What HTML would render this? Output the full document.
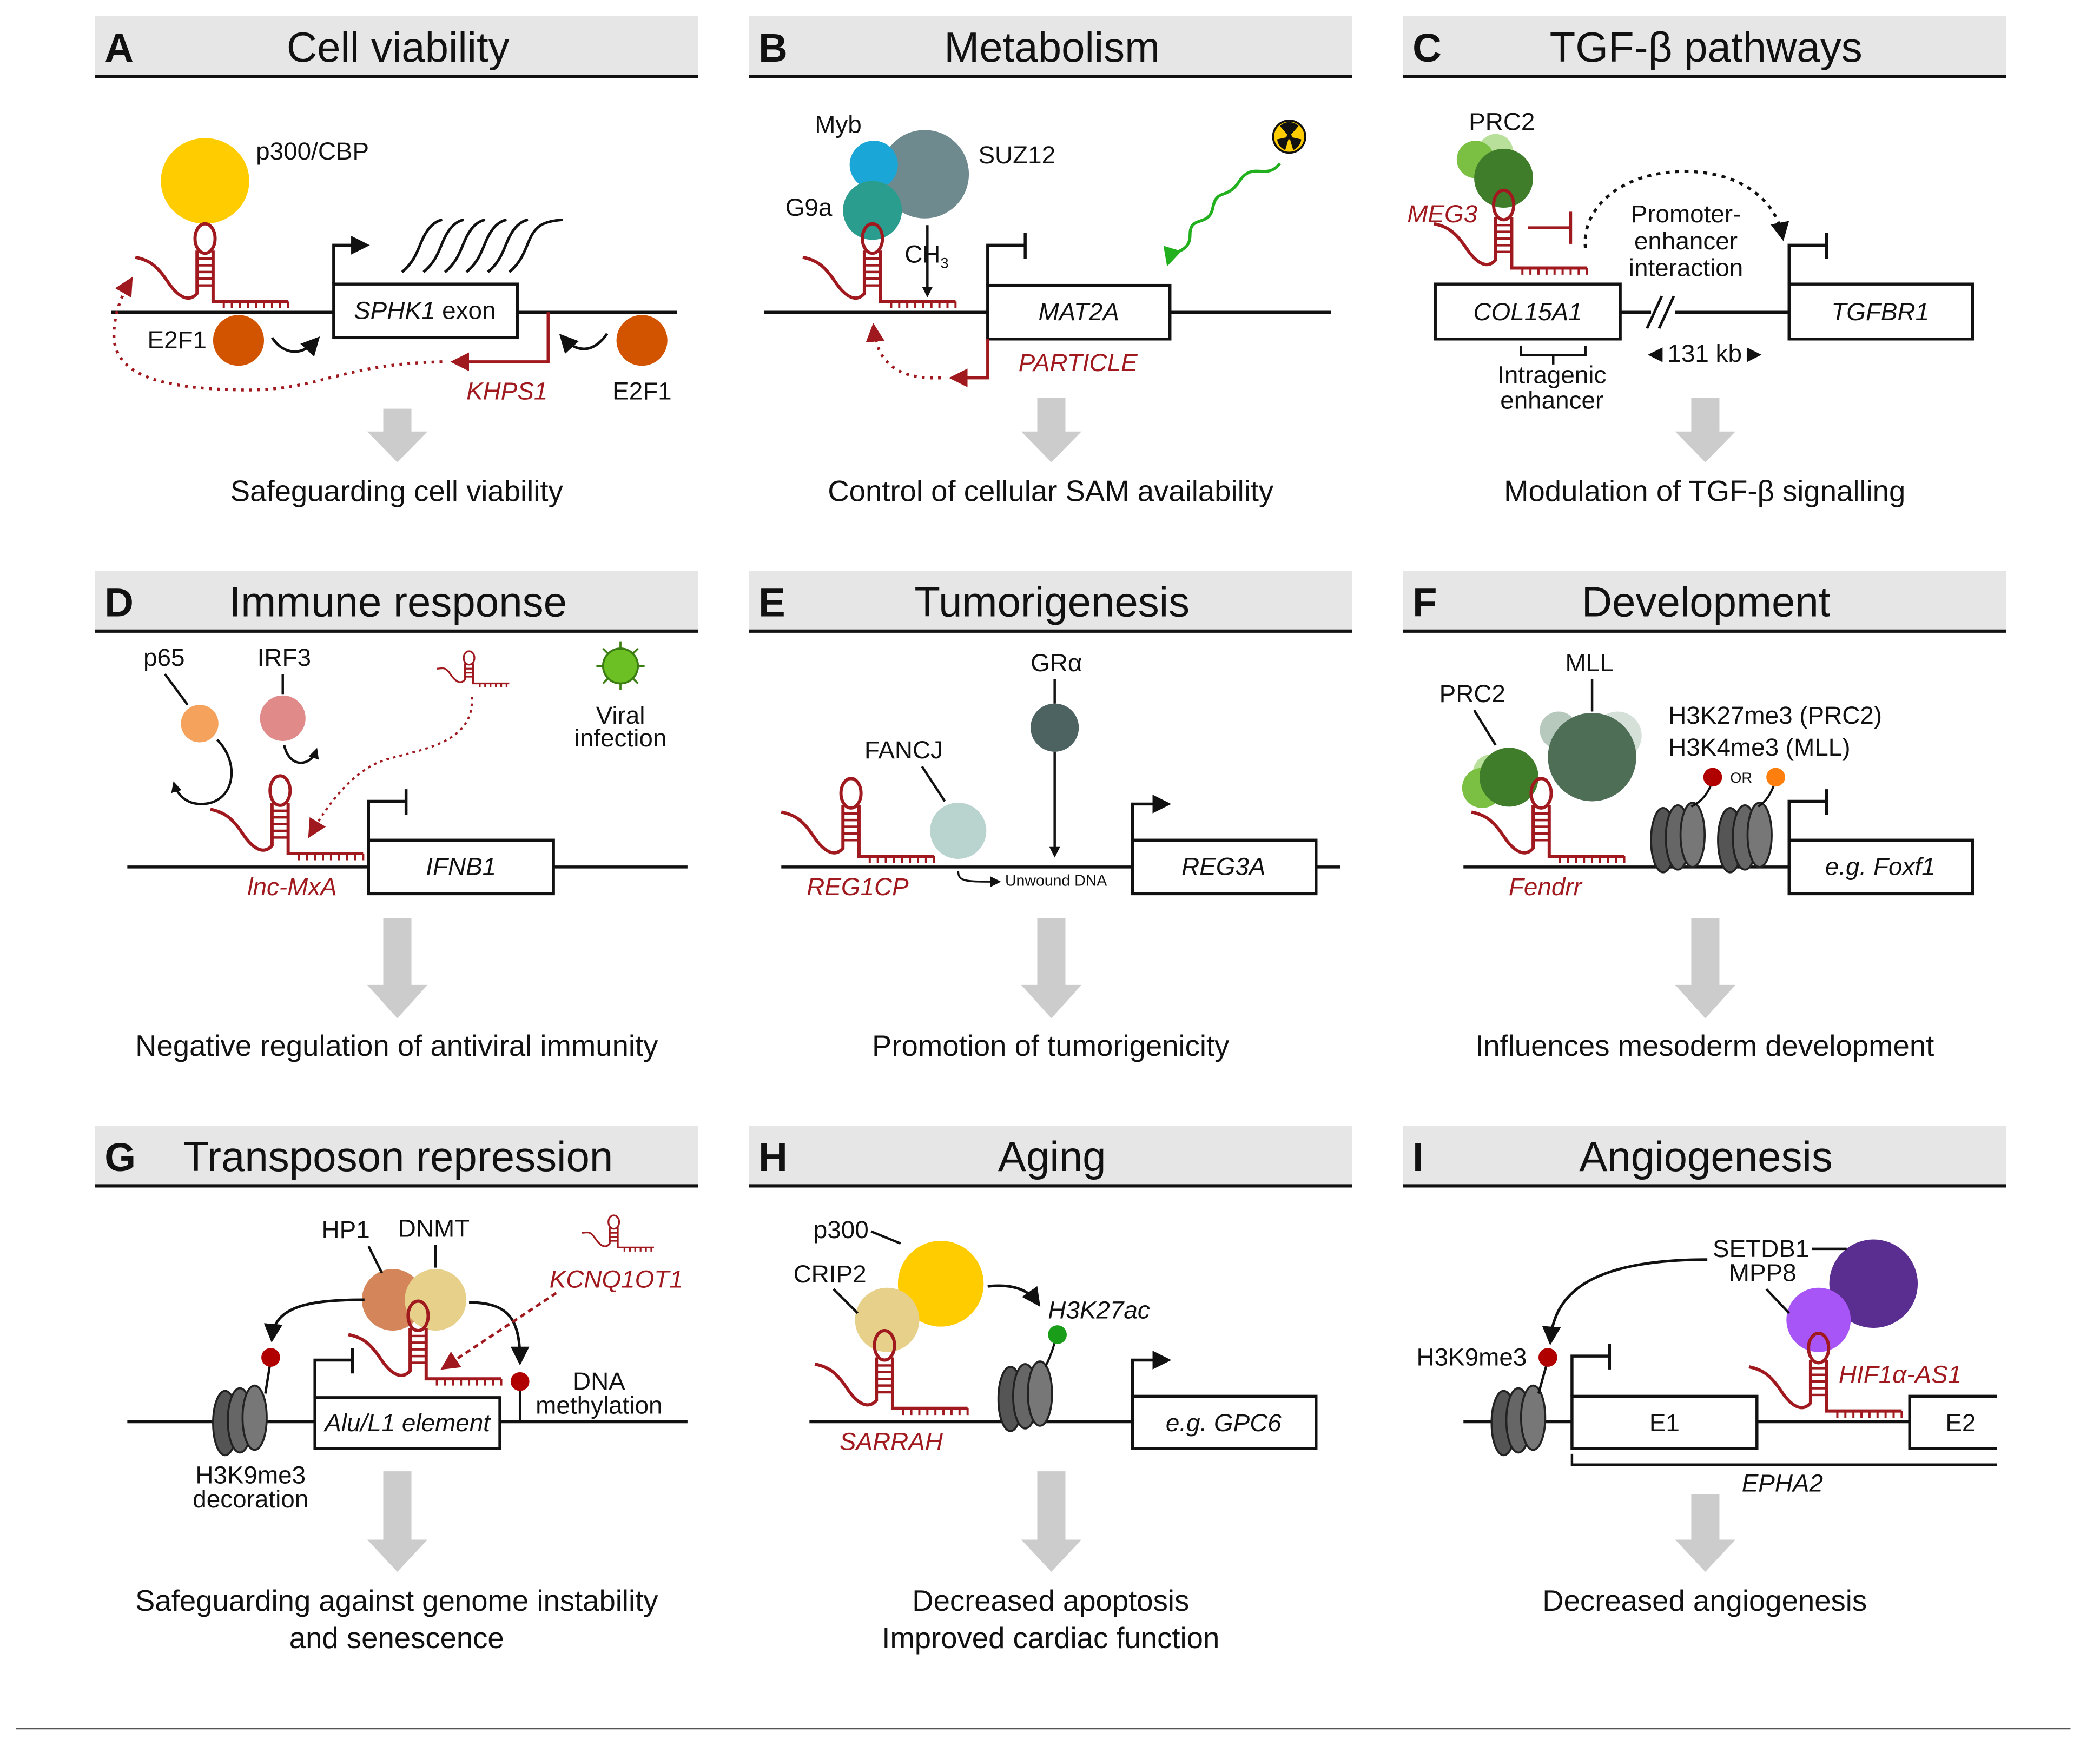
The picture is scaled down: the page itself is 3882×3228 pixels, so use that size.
<!DOCTYPE html>
<html><head><meta charset="utf-8"><style>
html,body{margin:0;padding:0;background:#fff;}
svg{display:block;}
text{font-family:"Liberation Sans",sans-serif;fill:#111;}
.h{font-size:31.5px;text-anchor:middle;}
.L{font-size:30px;font-weight:bold;}
.r{font-size:22px;text-anchor:middle;}
.s{font-size:18.5px;}
.m{text-anchor:middle;}
.i{font-style:italic;}
.red{fill:#a0191e;}
</style></head><body>
<svg width="3882" height="3228" viewBox="0 0 1567 1303" preserveAspectRatio="none" xmlns="http://www.w3.org/2000/svg">
<defs>
<marker id="ab" markerWidth="8" markerHeight="8" refX="6" refY="4" orient="auto" markerUnits="userSpaceOnUse" viewBox="0 0 8 8"><path d="M0,0 L8,4 L0,8 Z" fill="#111"/></marker>
<marker id="abig" markerWidth="14" markerHeight="14" refX="10" refY="7" orient="auto" markerUnits="userSpaceOnUse"><path d="M0,0 L14,7 L0,14 Z" fill="#111"/></marker>
<marker id="ar" markerWidth="14" markerHeight="14" refX="10" refY="7" orient="auto" markerUnits="userSpaceOnUse"><path d="M0,0 L14,7 L0,14 Z" fill="#a0191e"/></marker>
<marker id="ag" markerWidth="14" markerHeight="14" refX="10" refY="7" orient="auto" markerUnits="userSpaceOnUse"><path d="M0,0 L14,7 L0,14 Z" fill="#22b01e"/></marker>
<symbol id="hp" overflow="visible">
<g fill="none" stroke="#a0191e" stroke-width="2.4">
<ellipse cx="0" cy="0" rx="7.5" ry="11"/>
<path d="M-6,9 V41 C-12,48 -20,44 -28,32 S-42,16 -52,14"/>
<path d="M6,9 V47 H62"/>
<path d="M-6,15 H6 M-6,20 H6 M-6,25 H6 M-6,30 H6 M-6,35 H6" stroke-width="1.8"/>
<path d="M14,47 v5 M20,47 v5 M26,47 v5 M32,47 v5 M38,47 v5 M44,47 v5 M50,47 v5 M56,47 v5 M62,47 v5" stroke-width="1.6"/>
</g>
</symbol>
<symbol id="hps" overflow="visible">
<g fill="none" stroke="#a0191e" stroke-width="1.3">
<ellipse cx="0" cy="0" rx="4" ry="5"/>
<path d="M-3,4 V16 C-6,20 -10,18 -14,12 S-20,8 -24,8"/>
<path d="M3,4 V19 H30"/>
<path d="M-3,8 H3 M-3,11 H3 M-3,14 H3"/>
<path d="M8,19 v3 M12,19 v3 M16,19 v3 M20,19 v3 M24,19 v3 M28,19 v3"/>
</g>
</symbol>
<symbol id="nuc" overflow="visible">
<g stroke="#222" stroke-width="1.5">
<ellipse cx="-14" cy="2" rx="9" ry="24" fill="#555"/>
<ellipse cx="-3" cy="0" rx="9" ry="24" fill="#666"/>
<ellipse cx="8" cy="-2" rx="9" ry="24" fill="#777"/>
</g>
</symbol>
</defs>

<!-- Headers -->
<g>
<rect x="71" y="12" width="450" height="44" fill="#e6e6e6"/><rect x="559" y="12" width="450" height="44" fill="#e6e6e6"/><rect x="1047" y="12" width="450" height="44" fill="#e6e6e6"/>
<rect x="71" y="426" width="450" height="44" fill="#e6e6e6"/><rect x="559" y="426" width="450" height="44" fill="#e6e6e6"/><rect x="1047" y="426" width="450" height="44" fill="#e6e6e6"/>
<rect x="71" y="840" width="450" height="44" fill="#e6e6e6"/><rect x="559" y="840" width="450" height="44" fill="#e6e6e6"/><rect x="1047" y="840" width="450" height="44" fill="#e6e6e6"/>
<g stroke="#111" stroke-width="2.5">
<path d="M71,57 H521 M559,57 H1009 M1047,57 H1497"/>
<path d="M71,471 H521 M559,471 H1009 M1047,471 H1497"/>
<path d="M71,885 H521 M559,885 H1009 M1047,885 H1497"/>
</g>
<text class="L" x="78" y="46">A</text><text class="h" x="297" y="46">Cell viability</text>
<text class="L" x="566" y="46">B</text><text class="h" x="785" y="46">Metabolism</text>
<text class="L" x="1054" y="46">C</text><text class="h" x="1273" y="46">TGF-β pathways</text>
<text class="L" x="78" y="460">D</text><text class="h" x="297" y="460">Immune response</text>
<text class="L" x="566" y="460">E</text><text class="h" x="785" y="460">Tumorigenesis</text>
<text class="L" x="1054" y="460">F</text><text class="h" x="1273" y="460">Development</text>
<text class="L" x="78" y="874">G</text><text class="h" x="297" y="874">Transposon repression</text>
<text class="L" x="566" y="874">H</text><text class="h" x="785" y="874">Aging</text>
<text class="L" x="1054" y="874">I</text><text class="h" x="1273" y="874">Angiogenesis</text>
</g>

<!-- Gray arrows -->
<g fill="#cccccc">
<path d="M286,305 H307 V322 H319 L296.5,345 L274,322 H286 Z"/>
<path d="M774,297 H795 V322 H807 L784.5,345 L762,322 H774 Z"/>
<path d="M1262,297 H1283 V322 H1295 L1272.5,345 L1250,322 H1262 Z"/>
<path d="M286,685 H307 V735 H319 L296.5,760 L274,735 H286 Z"/>
<path d="M774,685 H795 V735 H807 L784.5,760 L762,735 H774 Z"/>
<path d="M1262,685 H1283 V735 H1295 L1272.5,760 L1250,735 H1262 Z"/>
<path d="M286,1098 H307 V1149 H319 L296.5,1173 L274,1149 H286 Z"/>
<path d="M774,1098 H795 V1149 H807 L784.5,1173 L762,1149 H774 Z"/>
<path d="M1262,1115 H1283 V1149 H1295 L1272.5,1173 L1250,1149 H1262 Z"/>
</g>
<text class="r" x="296" y="374">Safeguarding cell viability</text>
<text class="r" x="784" y="374">Control of cellular SAM availability</text>
<text class="r" x="1272" y="374">Modulation of TGF-β signalling</text>
<text class="r" x="296" y="788">Negative regulation of antiviral immunity</text>
<text class="r" x="784" y="788">Promotion of tumorigenicity</text>
<text class="r" x="1272" y="788">Influences mesoderm development</text>
<text class="r" x="296" y="1202">Safeguarding against genome instability</text>
<text class="r" x="296" y="1230">and senescence</text>
<text class="r" x="784" y="1202">Decreased apoptosis</text>
<text class="r" x="784" y="1230">Improved cardiac function</text>
<text class="r" x="1272" y="1202">Decreased angiogenesis</text>

<!-- Panel A -->
<g>
<path d="M83,233 H505" stroke="#111" stroke-width="2.2"/>
<ellipse cx="153" cy="135" rx="33" ry="32" fill="#ffcc00"/>
<text class="s" x="191" y="119">p300/CBP</text>
<use href="#hp" x="153" y="178"/>
<rect x="249" y="212" width="137" height="40" fill="#fff" stroke="#111" stroke-width="2.2"/>
<text class="s m" x="317" y="238"><tspan class="i">SPHK1</tspan> exon</text>
<path d="M249,212 V183 H272" fill="none" stroke="#111" stroke-width="2.2" marker-end="url(#abig)"/>
<g fill="none" stroke="#111" stroke-width="2">
<path d="M300,203 C310,195 312,185 316,177 S325,165 330,164"/>
<path d="M316,203 C326,195 328,185 332,177 S341,165 346,164"/>
<path d="M332,203 C342,195 344,185 348,177 S357,165 362,164"/>
<path d="M348,203 C358,195 360,185 364,177 S373,165 378,164"/>
<path d="M364,203 C374,195 376,185 380,177 S389,165 394,164"/>
<path d="M380,203 C390,195 392,185 396,177 S405,165 420,164"/>
</g>
<circle cx="178" cy="254" r="19" fill="#d35400"/>
<text class="s" x="110" y="260">E2F1</text>
<path d="M203,252 C212,265 225,266 236,254" fill="none" stroke="#111" stroke-width="2" marker-end="url(#abig)"/>
<circle cx="479" cy="254" r="19" fill="#d35400"/>
<text class="s" x="457" y="298">E2F1</text>
<path d="M453,249 C444,262 432,265 420,252" fill="none" stroke="#111" stroke-width="2" marker-end="url(#abig)"/>
<path d="M409,233 V270 H340" fill="none" stroke="#a0191e" stroke-width="2.2" marker-end="url(#ar)"/>
<path d="M330,270 C250,272 240,292 180,291 C120,290 85,280 85,250 C85,235 90,222 97,210" fill="none" stroke="#a0191e" stroke-width="2.2" stroke-dasharray="2,4" marker-end="url(#ar)"/>
<text class="s i red" x="348" y="298">KHPS1</text>
</g>

<!-- Panel B -->
<g>
<path d="M570,233 H993" stroke="#111" stroke-width="2.2"/>
<circle cx="690" cy="130" r="33" fill="#6e8a8f"/>
<circle cx="652" cy="123" r="18" fill="#1aa7d8"/>
<circle cx="651" cy="157" r="22" fill="#2a9d8f"/>
<text class="s" x="608" y="99">Myb</text>
<text class="s" x="730" y="122">SUZ12</text>
<text class="s" x="586" y="161">G9a</text>
<use href="#hp" x="651" y="178"/>
<path d="M692,168 V220" stroke="#111" stroke-width="1.8" marker-end="url(#ab)"/>
<text class="s" x="675" y="196">CH<tspan font-size="11" dy="4">3</tspan></text>
<rect x="737" y="213" width="136" height="40" fill="#fff" stroke="#111" stroke-width="2.2"/>
<text class="s m i" x="805" y="239">MAT2A</text>
<path d="M737,213 V183 H765 M765,174 V193" fill="none" stroke="#111" stroke-width="2.2"/>
<path d="M737,253 V282 H712" fill="none" stroke="#a0191e" stroke-width="2.2" marker-end="url(#ar)"/>
<path d="M702,282 C675,283 655,275 652,245" fill="none" stroke="#a0191e" stroke-width="2.2" stroke-dasharray="2,4" marker-end="url(#ar)"/>
<text class="s i red" x="760" y="277">PARTICLE</text>
<circle cx="962" cy="102" r="12" fill="#ffcc00" stroke="#111" stroke-width="1.5"/>
<g fill="#111"><circle cx="962" cy="102" r="2"/><path d="M962,102 L955,94 A10,10 0 0 1 969,94 Z"/><path d="M962,102 L971,104 A10,10 0 0 1 965,112 Z"/><path d="M962,102 L959,112 A10,10 0 0 1 953,104 Z"/></g>
<path d="M955,122 C945,135 935,120 925,135 S908,140 905,155 S888,160 888,175 S875,185 872,195" fill="none" stroke="#22b01e" stroke-width="2.2" marker-end="url(#ag)"/>
</g>

<!-- Panel C -->
<g>
<path d="M1209,233 H1335" stroke="#111" stroke-width="2.2"/>
<circle cx="1116" cy="113" r="13" fill="#b8e09a"/>
<circle cx="1101" cy="119" r="14" fill="#7bc043"/>
<circle cx="1122" cy="133" r="22" fill="#3f7d2a"/>
<text class="s" x="1096" y="97">PRC2</text>
<text class="s i red" x="1050" y="166">MEG3</text>
<use href="#hp" x="1122" y="153"/>
<path d="M1140,170 H1172 M1172,158 V182" fill="none" stroke="#a0191e" stroke-width="2.2"/>
<path d="M1183,185 C1180,155 1210,128 1257,128 C1300,128 1325,150 1330,176" fill="none" stroke="#111" stroke-width="2.2" stroke-dasharray="3,4" marker-end="url(#abig)"/>
<text class="s m" x="1258" y="166">Promoter-</text>
<text class="s m" x="1258" y="186">enhancer</text>
<text class="s m" x="1258" y="206">interaction</text>
<rect x="1071" y="212" width="138" height="41" fill="#fff" stroke="#111" stroke-width="2.2"/>
<text class="s m i" x="1140" y="239">COL15A1</text>
<rect x="1232" y="220" width="18" height="26" fill="#fff"/>
<path d="M1229,245 L1240,221 M1238,245 L1249,221" stroke="#111" stroke-width="2"/>
<rect x="1335" y="212" width="137" height="41" fill="#fff" stroke="#111" stroke-width="2.2"/>
<text class="s m i" x="1403" y="239">TGFBR1</text>
<path d="M1335,212 V183 H1363 M1363,174 V193" fill="none" stroke="#111" stroke-width="2.2"/>
<path d="M1135,258 V265 H1183 V258 M1159,265 V272" fill="none" stroke="#111" stroke-width="1.8"/>
<text class="s m" x="1158" y="286">Intragenic</text>
<text class="s m" x="1158" y="305">enhancer</text>
<text class="s m" x="1272" y="270">◄131 kb►</text>
</g>

<!-- Panel D -->
<g>
<path d="M95,647 H513" stroke="#111" stroke-width="2.2"/>
<circle cx="149" cy="540" r="14" fill="#f5a25d"/>
<circle cx="211" cy="536" r="17" fill="#e08a8a"/>
<text class="s" x="107" y="497">p65</text>
<text class="s" x="192" y="497">IRF3</text>
<path d="M123,503 L140,526 M211,503 V518" stroke="#111" stroke-width="1.8"/>
<path d="M162,552 C180,570 175,600 150,600 C138,600 132,592 130,585" fill="none" stroke="#111" stroke-width="1.8" marker-end="url(#ab)"/>
<path d="M212,556 C216,574 232,572 236,560" fill="none" stroke="#111" stroke-width="1.8" marker-end="url(#ab)"/>
<use href="#hp" x="209" y="590"/>
<rect x="275" y="627" width="138" height="40" fill="#fff" stroke="#111" stroke-width="2.2"/>
<text class="s m i" x="344" y="653">IFNB1</text>
<path d="M275,627 V598 H303 M303,589 V608" fill="none" stroke="#111" stroke-width="2.2"/>
<use href="#hps" x="350" y="491"/>
<path d="M352,520 C355,560 300,560 280,570 C260,580 245,600 232,622" fill="none" stroke="#a0191e" stroke-width="1.6" stroke-dasharray="2,3" marker-end="url(#ar)"/>
<g stroke="#3a7d10" stroke-width="1.5"><path d="M463,479 V515 M445,497 H481 M450,484 L476,510 M476,484 L450,510"/></g>
<circle cx="463" cy="497" r="13" fill="#6cc024" stroke="#3a7d10" stroke-width="1.5"/>
<text class="s m" x="463" y="540">Viral</text>
<text class="s m" x="463" y="557">infection</text>
<text class="s m i red" x="218" y="668">lnc-MxA</text>
</g>

<!-- Panel E -->
<g>
<path d="M583,647 H1000" stroke="#111" stroke-width="2.2"/>
<use href="#hp" x="635" y="592"/>
<circle cx="715" cy="620" r="21" fill="#b9d3cf"/>
<text class="s" x="645" y="566">FANCJ</text>
<path d="M688,572 L705,598" stroke="#111" stroke-width="1.8"/>
<circle cx="787" cy="543" r="18" fill="#4d6362"/>
<text class="s" x="769" y="501">GRα</text>
<path d="M787,507 V525" stroke="#111" stroke-width="1.8"/>
<path d="M787,561 V638" stroke="#111" stroke-width="1.8" marker-end="url(#ab)"/>
<path d="M715,650 C715,658 720,658 745,658" fill="none" stroke="#111" stroke-width="1.4" marker-end="url(#ab)"/>
<text x="750" y="661" font-size="11.5">Unwound DNA</text>
<rect x="845" y="627" width="137" height="40" fill="#fff" stroke="#111" stroke-width="2.2"/>
<text class="s m i" x="913" y="653">REG3A</text>
<path d="M845,627 V600 H870" fill="none" stroke="#111" stroke-width="2.2" marker-end="url(#abig)"/>
<text class="s m i red" x="640" y="668">REG1CP</text>
</g>

<!-- Panel F -->
<g>
<path d="M1092,647 H1335" stroke="#111" stroke-width="2.2"/>
<circle cx="1163" cy="545" r="14" fill="#b7c9bd"/>
<circle cx="1207" cy="549" r="18" fill="#d5e0d9"/>
<circle cx="1188" cy="565" r="33" fill="#4f6e56"/>
<circle cx="1113" cy="577" r="14" fill="#b8e09a"/>
<circle cx="1106" cy="588" r="15" fill="#7bc043"/>
<circle cx="1126" cy="580" r="22" fill="#3f7d2a"/>
<text class="s" x="1074" y="524">PRC2</text>
<path d="M1100,530 L1116,556" stroke="#111" stroke-width="1.8"/>
<text class="s" x="1168" y="501">MLL</text>
<path d="M1188,507 V531" stroke="#111" stroke-width="1.8"/>
<use href="#hp" x="1150" y="592"/>
<text class="s m i red" x="1153" y="668">Fendrr</text>
<text class="s" x="1245" y="540">H3K27me3 (PRC2)</text>
<text class="s" x="1245" y="564">H3K4me3 (MLL)</text>
<use href="#nuc" x="1255" y="625"/>
<use href="#nuc" x="1305" y="625"/>
<path d="M1262,602 C1270,598 1275,592 1278,582 M1312,602 C1318,598 1322,592 1325,582" fill="none" stroke="#111" stroke-width="1.6"/>
<circle cx="1278" cy="580" r="7" fill="#b00000"/>
<text x="1291" y="584" font-size="11">OR</text>
<circle cx="1325" cy="580" r="7" fill="#ff7f0e"/>
<rect x="1335" y="627" width="137" height="40" fill="#fff" stroke="#111" stroke-width="2.2"/>
<text class="s m i" x="1403" y="653">e.g. Foxf1</text>
<path d="M1335,627 V598 H1363 M1363,589 V608" fill="none" stroke="#111" stroke-width="2.2"/>
</g>

<!-- Panel G -->
<g>
<path d="M95,1061 H513" stroke="#111" stroke-width="2.2"/>
<use href="#nuc" x="182" y="1060"/>
<circle cx="293" cy="970" r="23" fill="#d4865a"/>
<circle cx="325" cy="970" r="23" fill="#e6d08a"/>
<text class="s" x="240" y="924">HP1</text>
<text class="s" x="297" y="923">DNMT</text>
<path d="M275,930 L285,950 M325,929 V946" stroke="#111" stroke-width="1.8"/>
<use href="#hp" x="312" y="982"/>
<path d="M272,970 C230,970 205,975 203,998" fill="none" stroke="#111" stroke-width="2" marker-end="url(#abig)"/>
<path d="M350,972 C380,972 388,985 388,1015" fill="none" stroke="#111" stroke-width="2" marker-end="url(#abig)"/>
<path d="M198,1040 L202,1015 M388,1031 V1061" stroke="#111" stroke-width="1.8"/>
<circle cx="202" cy="1013" r="7" fill="#b00000"/>
<circle cx="388" cy="1031" r="7" fill="#b00000"/>
<rect x="235" y="1043" width="138" height="38" fill="#fff" stroke="#111" stroke-width="2.2"/>
<text class="s m i" x="304" y="1068">Alu/L1 element</text>
<path d="M235,1043 V1015 H263 M263,1006 V1025" fill="none" stroke="#111" stroke-width="2.2"/>
<use href="#hps" x="458" y="912"/>
<text class="s i red" x="410" y="961">KCNQ1OT1</text>
<path d="M415,965 L332,1020" fill="none" stroke="#a0191e" stroke-width="2" stroke-dasharray="4,3" marker-end="url(#ar)"/>
<text class="s m" x="447" y="1037">DNA</text>
<text class="s m" x="447" y="1055">methylation</text>
<text class="s m" x="187" y="1107">H3K9me3</text>
<text class="s m" x="187" y="1125">decoration</text>
</g>

<!-- Panel H -->
<g>
<path d="M604,1061 H845" stroke="#111" stroke-width="2.2"/>
<circle cx="702" cy="958" r="32" fill="#ffcc00"/>
<circle cx="662" cy="985" r="24" fill="#e6d08a"/>
<text class="s" x="607" y="924">p300</text>
<path d="M650,919 L672,928" stroke="#111" stroke-width="1.8"/>
<text class="s" x="592" y="957">CRIP2</text>
<path d="M622,962 L640,980" stroke="#111" stroke-width="1.8"/>
<use href="#hp" x="660" y="1004"/>
<text class="s m i red" x="665" y="1082">SARRAH</text>
<use href="#nuc" x="768" y="1042"/>
<path d="M780,1020 C784,1012 786,1006 788,998" fill="none" stroke="#111" stroke-width="1.6"/>
<circle cx="789" cy="996" r="7" fill="#1a9e1a"/>
<path d="M737,960 C755,958 767,962 774,972" fill="none" stroke="#111" stroke-width="2" marker-end="url(#abig)"/>
<text class="s i" x="782" y="984">H3K27ac</text>
<rect x="845" y="1042" width="137" height="39" fill="#fff" stroke="#111" stroke-width="2.2"/>
<text class="s m i" x="913" y="1068">e.g. GPC6</text>
<path d="M845,1042 V1015 H870" fill="none" stroke="#111" stroke-width="2.2" marker-end="url(#abig)"/>
</g>

<!-- Panel I -->
<g>
<path d="M1092,1061 H1490" stroke="#111" stroke-width="2.2"/>
<use href="#nuc" x="1136" y="1060"/>
<path d="M1148,1040 L1155,1015" stroke="#111" stroke-width="1.8"/>
<circle cx="1155" cy="1013" r="7" fill="#b00000"/>
<text class="s" x="1057" y="1019">H3K9me3</text>
<circle cx="1398" cy="958" r="33" fill="#5a2d91"/>
<circle cx="1357" cy="985" r="24" fill="#a855f7"/>
<text class="s" x="1278" y="938">SETDB1</text>
<path d="M1352,932 H1378" stroke="#111" stroke-width="1.8"/>
<text class="s" x="1290" y="956">MPP8</text>
<path d="M1318,962 L1335,980" stroke="#111" stroke-width="1.8"/>
<path d="M1274,940 C1200,940 1160,958 1157,1000" fill="none" stroke="#111" stroke-width="2" marker-end="url(#abig)"/>
<use href="#hp" x="1357" y="1006"/>
<text class="s i red" x="1372" y="1032">HIF1α-AS1</text>
<rect x="1173" y="1042" width="138" height="39" fill="#fff" stroke="#111" stroke-width="2.2"/>
<text class="s m" x="1242" y="1068">E1</text>
<path d="M1490,1042 H1425 V1081 H1490" fill="#fff" stroke="#111" stroke-width="2.2"/>
<text class="s m" x="1463" y="1068">E2</text>
<path d="M1173,1042 V1012 H1201 M1201,1003 V1022" fill="none" stroke="#111" stroke-width="2.2"/>
<path d="M1173,1085 V1093 H1490" fill="none" stroke="#111" stroke-width="1.8"/>
<text class="s m i" x="1330" y="1113">EPHA2</text>
</g>

<path d="M12,1290 H1545" stroke="#555" stroke-width="1.2"/>
</svg>
</body></html>
